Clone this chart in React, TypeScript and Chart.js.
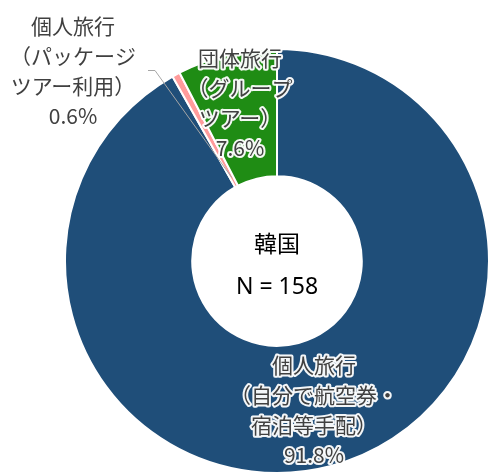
import React, { useEffect, useRef } from 'react';
import { Chart, registerables } from 'chart.js';

Chart.register(...registerables);

// ---- data ----
const categories = [
  '個人旅行（自分で航空券・宿泊等手配）',
  '個人旅行（パッケージツアー利用）',
  '団体旅行（グループツアー）',
];
const shares = [91.8, 0.6, 7.6];
const sliceColors = ['#1F4E79', '#FF9B9B', '#1F8C14'];
const labelLines = [
  ['個人旅行', '（自分で航空券・', '宿泊等手配）'],
  ['個人旅行', '（パッケージ', 'ツアー利用）'],
  ['団体旅行', '（グループ', 'ツアー）'],
];
const centerTitle = '韓国';
const centerN = 'N = 158';

// label anchor offsets from the doughnut centre (x, first line y)
const labelOffsets = [
  [37, 104],
  [-204, -235],
  [-37, -203],
];

const FONT = '"Noto Sans CJK JP", "Noto Sans", sans-serif';

const labelPlugin = {
  id: 'sliceLabels',
  afterDatasetsDraw(chart: any) {
    const meta = chart.getDatasetMeta(0);
    const a0 = meta.data[0].getProps(['x', 'y', 'outerRadius', 'innerRadius'], true);
    const cx = a0.x;
    const cy = a0.y;
    const inner = a0.innerRadius;
    const ctx = chart.ctx as CanvasRenderingContext2D;
    ctx.save();

    // leader line for the small slice
    const pink = meta.data[1].getProps(['startAngle', 'endAngle'], true);
    const mid = (pink.startAngle + pink.endAngle) / 2;
    const r = inner + 10;
    const ex = cx + Math.cos(mid) * r;
    const ey = cy + Math.sin(mid) * r;
    const lx = cx + labelOffsets[1][0];
    const ly = cy + labelOffsets[1][1];
    ctx.strokeStyle = '#A6A6A6';
    ctx.lineWidth = 1;
    ctx.beginPath();
    ctx.moveTo(lx + 75, ly + 44.5);
    ctx.lineTo(lx + 82, ly + 44.5);
    ctx.lineTo(ex, ey);
    ctx.stroke();

    ctx.textAlign = 'center';
    ctx.textBaseline = 'middle';
    ctx.lineJoin = 'round';
    ctx.font = `21px ${FONT}`;
    shares.forEach((v, i) => {
      const lines = [...labelLines[i], `${v.toFixed(1)}%`];
      const x = cx + labelOffsets[i][0];
      const y0 = cy + labelOffsets[i][1];
      lines.forEach((t, k) => {
        const y = y0 + k * 30;
        ctx.strokeStyle = 'rgba(255,255,255,0.95)';
        ctx.lineWidth = 4;
        ctx.strokeText(t, x, y);
        ctx.fillStyle = '#404040';
        ctx.fillText(t, x, y);
      });
    });

    ctx.fillStyle = '#000000';
    ctx.font = `23px ${FONT}`;
    ctx.fillText(centerTitle, cx, cy - 18);
    ctx.font = `23px "Noto Sans", ${FONT}`;
    ctx.fillText(centerN, cx, cy + 26);
    ctx.restore();
  },
};

export default function App() {
  const ref = useRef<HTMLCanvasElement | null>(null);
  useEffect(() => {
    document.body.style.margin = '0';
    if (!ref.current) return;
    const chart = new Chart(ref.current, {
      type: 'doughnut',
      data: {
        labels: categories,
        datasets: [
          {
            data: shares,
            backgroundColor: sliceColors,
            borderColor: '#FFFFFF',
            borderWidth: 2,
            hoverOffset: 0,
            offset: 0,
          },
        ],
      },
      options: {
        responsive: false,
        animation: false,
        events: [],
        cutout: '40%',
        rotation: 0,
        layout: { padding: { left: 64, right: 4, top: 48, bottom: 0 } },
        plugins: {
          legend: { display: false },
          tooltip: { enabled: false },
        },
      },
      plugins: [labelPlugin],
    });
    return () => chart.destroy();
  }, []);
  return (
    <div style={{ position: 'absolute', left: 0, top: 0, width: 488, height: 474, overflow: 'hidden', background: '#fff' }}>
      <canvas ref={ref} width={494} height={474} style={{ width: 494, height: 474 }} />
    </div>
  );
}
